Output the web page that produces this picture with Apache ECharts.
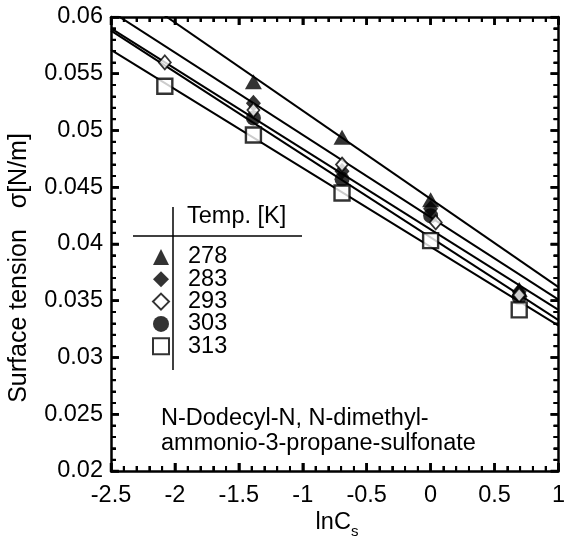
<!DOCTYPE html>
<html><head><meta charset="utf-8">
<script src="https://cdn.jsdelivr.net/npm/echarts@6/dist/echarts.min.js"></script>
<style>html,body{margin:0;padding:0;background:#fff}#c{width:568px;height:541px}</style>
</head><body><div id="c"></div>
<script>
// Temperatures [K]
const temps = ['278', '283', '293', '303', '313'];
// lnCs positions of measured points
const x278 = [-1.386, -0.693, 0, 0.693];
const x283 = [-1.386, -0.693, 0, 0.693];
const x293 = [-2.079, -1.386, -0.693, 0.04, 0.693];
const x303 = [-1.386, -0.693, 0, 0.693];
const x313 = [-2.079, -1.386, -0.693, 0, 0.693];
// surface tension [N/m]
const s278 = [0.0543, 0.0494, 0.0439, 0.0360];
const s283 = [0.0524, 0.0464, 0.0431, 0.0358];
const s293 = [0.0560, 0.0518, 0.0470, 0.0419, 0.0355];
const s303 = [0.0511, 0.0457, 0.0425, 0.0353];
const s313 = [0.0539, 0.0496, 0.0445, 0.0403, 0.0342];
// fitted lines: values at the two ends of the x range
const fitX = [-2.5, 1];
const fit278 = [0.0634, 0.0362];
const fit283 = [0.0605, 0.0351];
const fit293 = [0.0590, 0.0342];
const fit303 = [0.0588, 0.0333];
const fit313 = [0.0571, 0.0328];
// axis ticks
const xTicks = ['-2.5', '-2', '-1.5', '-1', '-0.5', '0', '0.5', '1'];
const yTicks = ['0.02', '0.025', '0.03', '0.035', '0.04', '0.045', '0.05', '0.055', '0.06'];

const XMIN = -2.5, XMAX = 1, YMIN = 0.02, YMAX = 0.06;
const FONT = 'Liberation Sans';
const FS = 23.5;
const pts = {'278': [x278, s278], '283': [x283, s283], '293': [x293, s293], '303': [x303, s303], '313': [x313, s313]};
const fits = {'278': fit278, '283': fit283, '293': fit293, '303': fit303, '313': fit313};
const symStyle = {
  '278': {symbol: 'triangle', symbolSize: [17, 15], itemStyle: {color: '#000'}},
  '283': {symbol: 'diamond', symbolSize: [15, 17], itemStyle: {color: '#000'}},
  '293': {symbol: 'diamond', symbolSize: [12, 14], itemStyle: {color: '#fff', borderColor: '#000', borderWidth: 1.8}},
  '303': {symbol: 'circle', symbolSize: 15, itemStyle: {color: '#000'}},
  '313': {symbol: 'rect', symbolSize: 15, itemStyle: {color: '#fff', borderColor: '#000', borderWidth: 2.4}}
};
const legendIcons = {'278': 'triangle', '283': 'diamond', '293': 'diamond', '303': 'circle', '313': 'rect'};

const GL = 111, GR = 1, GT = 17, GB = 70, W = 568, H = 541;
const pxX = (XMAX - XMIN) / (W - GL - GR);
const pxY = (YMAX - YMIN) / (H - GT - GB);

function tickSeries(major) {
  const len = major ? 8 : 5;
  const d = [];
  for (let i = 0; i <= 35; i++) {
    if ((i % 5 === 0) !== major) continue;
    const v = XMIN + i * 0.1;
    d.push([v, YMIN], [v, YMIN + len * pxY], '-');
    d.push([v, YMAX], [v, YMAX - len * pxY], '-');
  }
  for (let i = 0; i <= 40; i++) {
    if ((i % 5 === 0) !== major) continue;
    const v = YMIN + i * 0.001;
    d.push([XMIN, v], [XMIN + len * pxX, v], '-');
    d.push([XMAX, v], [XMAX - len * pxX, v], '-');
  }
  return {type: 'line', showSymbol: false, lineStyle: {color: '#000', width: major ? 2.5 : 2}, data: d};
}

const series = [tickSeries(true), tickSeries(false)];
temps.forEach(t => {
  series.push({
    type: 'line', name: 'fit' + t, silent: true, showSymbol: false, symbol: 'none',
    lineStyle: {color: '#000', width: 2}, clip: true, z: 2,
    data: fitX.map((x, i) => [x, fits[t][i]])
  });
});
['278', '283', '303', '293', '313'].forEach((t, k) => {
  const st = symStyle[t];
  series.push({
    type: 'scatter', name: t, symbol: st.symbol, symbolSize: st.symbolSize,
    itemStyle: st.itemStyle, z: 3 + k,
    data: pts[t][0].map((x, i) => [x, pts[t][1][i]])
  });
});

const lineCommon = () => ({show: true, onZero: false, lineStyle: {color: '#000', width: 2.5}});
const tickCommon = () => ({show: true, inside: true, length: 8, lineStyle: {color: '#000', width: 2.5}});
const minorCommon = () => ({show: true, splitNumber: 5, length: 5, lineStyle: {color: '#000', width: 2}});
const lab = {color: '#000', fontFamily: FONT, fontSize: FS};

const chart = echarts.init(document.getElementById('c'));
chart.setOption({
  animation: false,
  grid: {left: GL, right: GR, top: GT, bottom: GB},
  xAxis: [
    {type: 'value', min: XMIN, max: XMAX, interval: 0.5, position: 'bottom',
     axisLine: lineCommon(), axisTick: tickCommon(), minorTick: minorCommon(), splitLine: {show: false},
     axisLabel: Object.assign({margin: 13, formatter: v => xTicks[Math.round((v - XMIN) / 0.5)]}, lab)},
    {type: 'value', min: XMIN, max: XMAX, interval: 0.5, position: 'top',
     axisLine: lineCommon(), axisTick: tickCommon(), minorTick: minorCommon(), splitLine: {show: false}, axisLabel: {show: false}}
  ],
  yAxis: [
    {type: 'value', min: YMIN, max: YMAX, interval: 0.005, position: 'left',
     axisLine: lineCommon(), axisTick: tickCommon(), minorTick: minorCommon(), splitLine: {show: false},
     axisLabel: Object.assign({margin: 8, formatter: v => yTicks[Math.round((v - YMIN) / 0.005)]}, lab)},
    {type: 'value', min: YMIN, max: YMAX, interval: 0.005, position: 'right',
     axisLine: lineCommon(), axisTick: tickCommon(), minorTick: minorCommon(), splitLine: {show: false}, axisLabel: {show: false}}
  ],
  legend: {
    orient: 'vertical', left: 147, top: 240, itemGap: -1.7,
    itemWidth: 16, itemHeight: 16,
    data: temps.map(t => ({name: t, icon: legendIcons[t]})),
    textStyle: {color: '#000', fontFamily: FONT, fontSize: FS, padding: [0, 0, 0, 14]},
    selectedMode: false
  },
  graphic: [
    {type: 'line', shape: {x1: 173, y1: 207, x2: 173, y2: 370}, style: {stroke: '#000', lineWidth: 1.5}},
    {type: 'line', shape: {x1: 133, y1: 236, x2: 302, y2: 236}, style: {stroke: '#000', lineWidth: 1.5}},
    {type: 'text', left: 187, top: 205, style: {text: 'Temp. [K]', fill: '#000', font: FS + 'px "' + FONT + '"'}},
    {type: 'text', left: 161, top: 406, style: {text: 'N-Dodecyl-N, N-dimethyl-\nammonio-3-propane-sulfonate', fill: '#000', font: FS + 'px "' + FONT + '"', lineHeight: 25}},
    {type: 'text', x: 337, y: 522, style: {
      text: '{a|lnC}{b|s}', align: 'center', verticalAlign: 'middle',
      rich: {a: {fontFamily: FONT, fontSize: FS, lineHeight: 22, verticalAlign: 'top', fill: '#000'},
             b: {fontFamily: FONT, fontSize: 15, lineHeight: 15, padding: [13, 0, 0, 0], verticalAlign: 'top', fill: '#000'}}}},
    {type: 'text', x: 19, y: 268, rotation: Math.PI / 2, style: {
      text: 'Surface tension   σ[N/m]', align: 'center', verticalAlign: 'middle', fill: '#000', font: '25px "' + FONT + '"'}}
  ],
  series: series
});
</script></body></html>
